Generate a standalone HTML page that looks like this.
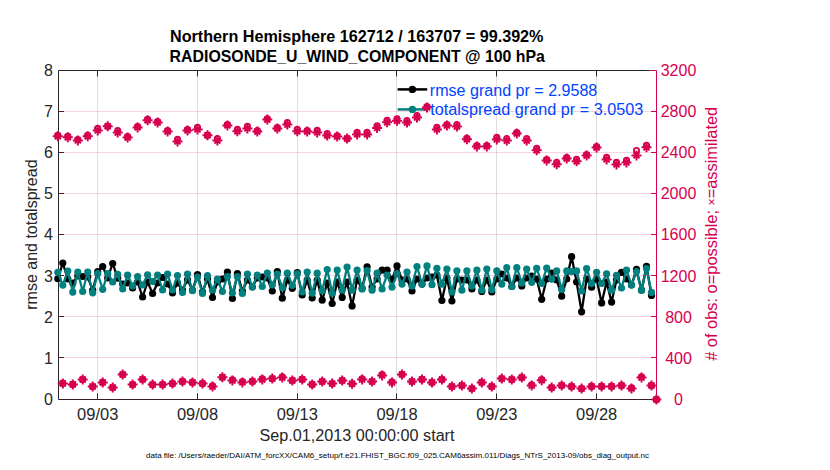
<!DOCTYPE html><html><head><meta charset="utf-8"><style>html,body{margin:0;padding:0;background:#fff;}svg{display:block;}text{font-family:"Liberation Sans",sans-serif;}</style></head><body><svg width="830" height="470" viewBox="0 0 830 470"><rect width="830" height="470" fill="#fff"/><path d="M58.5 70.5H650.5" stroke="#262626" stroke-width="1" fill="none"/><path d="M650.5 70.5H656.5" stroke="#D6004F" stroke-width="1" fill="none"/><path d="M58.5 70.5V399.5" stroke="#262626" stroke-width="1" fill="none"/><path d="M58.5 399.5H656.5" stroke="#3D1A28" stroke-width="1" fill="none"/><path d="M656.5 70.5V399.5" stroke="#D6004F" stroke-width="1" fill="none"/><path d="M97.5 70.5v6M97.5 399.5v-6" stroke="#262626" stroke-width="1"/><path d="M197.5 70.5v6M197.5 399.5v-6" stroke="#262626" stroke-width="1"/><path d="M297.5 70.5v6M297.5 399.5v-6" stroke="#262626" stroke-width="1"/><path d="M396.5 70.5v6M396.5 399.5v-6" stroke="#262626" stroke-width="1"/><path d="M496.5 70.5v6M496.5 399.5v-6" stroke="#262626" stroke-width="1"/><path d="M596.5 70.5v6M596.5 399.5v-6" stroke="#262626" stroke-width="1"/><path d="M58.5 357.5h5.5" stroke="#3a1a26" stroke-width="1"/><path d="M656.5 357.5h-5.5" stroke="#D6004F" stroke-width="1"/><path d="M58.5 316.5h5.5" stroke="#3a1a26" stroke-width="1"/><path d="M656.5 316.5h-5.5" stroke="#D6004F" stroke-width="1"/><path d="M58.5 275.5h5.5" stroke="#3a1a26" stroke-width="1"/><path d="M656.5 275.5h-5.5" stroke="#D6004F" stroke-width="1"/><path d="M58.5 234.5h5.5" stroke="#3a1a26" stroke-width="1"/><path d="M656.5 234.5h-5.5" stroke="#D6004F" stroke-width="1"/><path d="M58.5 193.5h5.5" stroke="#3a1a26" stroke-width="1"/><path d="M656.5 193.5h-5.5" stroke="#D6004F" stroke-width="1"/><path d="M58.5 152.5h5.5" stroke="#3a1a26" stroke-width="1"/><path d="M656.5 152.5h-5.5" stroke="#D6004F" stroke-width="1"/><path d="M58.5 111.5h5.5" stroke="#3a1a26" stroke-width="1"/><path d="M656.5 111.5h-5.5" stroke="#D6004F" stroke-width="1"/><path d="M57.8 278.7 L62.8 263.0 L67.8 279.0 L72.8 283.0 L77.8 276.0 L82.7 276.5 L87.7 277.0 L92.7 290.0 L97.7 271.6 L102.7 266.5 L107.7 278.0 L112.7 263.5 L117.7 278.2 L122.7 284.0 L127.6 283.0 L132.6 288.0 L137.6 282.0 L142.6 297.0 L147.6 282.0 L152.6 293.5 L157.6 283.0 L162.6 277.5 L167.6 284.0 L172.5 293.0 L177.5 283.0 L182.5 290.0 L187.5 279.8 L192.5 290.0 L197.5 274.5 L202.5 292.0 L207.5 279.0 L212.5 297.5 L217.4 282.0 L222.4 279.0 L227.4 272.0 L232.4 298.5 L237.4 273.5 L242.4 291.0 L247.4 280.0 L252.4 287.0 L257.3 278.0 L262.3 277.0 L267.3 278.0 L272.3 291.0 L277.3 271.5 L282.3 298.2 L287.3 280.0 L292.3 288.3 L297.3 272.5 L302.2 295.0 L307.2 280.0 L312.2 298.0 L317.2 280.0 L322.2 300.2 L327.2 283.0 L332.2 303.5 L337.2 282.0 L342.2 297.4 L347.1 282.0 L352.1 305.9 L357.1 280.0 L362.1 288.3 L367.1 266.8 L372.1 287.0 L377.1 279.0 L382.1 270.2 L387.1 270.2 L392.0 279.3 L397.0 265.9 L402.0 280.0 L407.0 279.0 L412.0 291.0 L417.0 279.0 L422.0 284.1 L427.0 278.0 L432.0 277.0 L436.9 275.0 L441.9 300.5 L446.9 278.0 L451.9 301.0 L456.9 279.0 L461.9 280.0 L466.9 280.0 L471.9 289.0 L476.9 280.0 L481.8 291.4 L486.8 280.0 L491.8 292.0 L496.8 279.0 L501.8 274.0 L506.8 278.0 L511.8 286.5 L516.8 278.0 L521.8 285.9 L526.7 278.0 L531.7 276.0 L536.7 279.0 L541.7 299.3 L546.7 279.0 L551.7 273.1 L556.7 280.0 L561.7 296.2 L566.7 279.0 L571.6 256.7 L576.6 282.0 L581.6 311.8 L586.6 279.0 L591.6 287.2 L596.6 279.0 L601.6 302.9 L606.6 282.0 L611.6 302.1 L616.5 280.0 L621.5 272.3 L626.5 279.0 L631.5 285.0 L636.5 269.4 L641.5 290.2 L646.5 266.4 L651.5 295.4" stroke="#000" stroke-width="2.3" fill="none" stroke-linejoin="round"/><g fill="#000"><circle cx="57.8" cy="278.7" r="3.6"/><circle cx="62.8" cy="263.0" r="3.6"/><circle cx="67.8" cy="279.0" r="3.6"/><circle cx="72.8" cy="283.0" r="3.6"/><circle cx="77.8" cy="276.0" r="3.6"/><circle cx="82.7" cy="276.5" r="3.6"/><circle cx="87.7" cy="277.0" r="3.6"/><circle cx="92.7" cy="290.0" r="3.6"/><circle cx="97.7" cy="271.6" r="3.6"/><circle cx="102.7" cy="266.5" r="3.6"/><circle cx="107.7" cy="278.0" r="3.6"/><circle cx="112.7" cy="263.5" r="3.6"/><circle cx="117.7" cy="278.2" r="3.6"/><circle cx="122.7" cy="284.0" r="3.6"/><circle cx="127.6" cy="283.0" r="3.6"/><circle cx="132.6" cy="288.0" r="3.6"/><circle cx="137.6" cy="282.0" r="3.6"/><circle cx="142.6" cy="297.0" r="3.6"/><circle cx="147.6" cy="282.0" r="3.6"/><circle cx="152.6" cy="293.5" r="3.6"/><circle cx="157.6" cy="283.0" r="3.6"/><circle cx="162.6" cy="277.5" r="3.6"/><circle cx="167.6" cy="284.0" r="3.6"/><circle cx="172.5" cy="293.0" r="3.6"/><circle cx="177.5" cy="283.0" r="3.6"/><circle cx="182.5" cy="290.0" r="3.6"/><circle cx="187.5" cy="279.8" r="3.6"/><circle cx="192.5" cy="290.0" r="3.6"/><circle cx="197.5" cy="274.5" r="3.6"/><circle cx="202.5" cy="292.0" r="3.6"/><circle cx="207.5" cy="279.0" r="3.6"/><circle cx="212.5" cy="297.5" r="3.6"/><circle cx="217.4" cy="282.0" r="3.6"/><circle cx="222.4" cy="279.0" r="3.6"/><circle cx="227.4" cy="272.0" r="3.6"/><circle cx="232.4" cy="298.5" r="3.6"/><circle cx="237.4" cy="273.5" r="3.6"/><circle cx="242.4" cy="291.0" r="3.6"/><circle cx="247.4" cy="280.0" r="3.6"/><circle cx="252.4" cy="287.0" r="3.6"/><circle cx="257.3" cy="278.0" r="3.6"/><circle cx="262.3" cy="277.0" r="3.6"/><circle cx="267.3" cy="278.0" r="3.6"/><circle cx="272.3" cy="291.0" r="3.6"/><circle cx="277.3" cy="271.5" r="3.6"/><circle cx="282.3" cy="298.2" r="3.6"/><circle cx="287.3" cy="280.0" r="3.6"/><circle cx="292.3" cy="288.3" r="3.6"/><circle cx="297.3" cy="272.5" r="3.6"/><circle cx="302.2" cy="295.0" r="3.6"/><circle cx="307.2" cy="280.0" r="3.6"/><circle cx="312.2" cy="298.0" r="3.6"/><circle cx="317.2" cy="280.0" r="3.6"/><circle cx="322.2" cy="300.2" r="3.6"/><circle cx="327.2" cy="283.0" r="3.6"/><circle cx="332.2" cy="303.5" r="3.6"/><circle cx="337.2" cy="282.0" r="3.6"/><circle cx="342.2" cy="297.4" r="3.6"/><circle cx="347.1" cy="282.0" r="3.6"/><circle cx="352.1" cy="305.9" r="3.6"/><circle cx="357.1" cy="280.0" r="3.6"/><circle cx="362.1" cy="288.3" r="3.6"/><circle cx="367.1" cy="266.8" r="3.6"/><circle cx="372.1" cy="287.0" r="3.6"/><circle cx="377.1" cy="279.0" r="3.6"/><circle cx="382.1" cy="270.2" r="3.6"/><circle cx="387.1" cy="270.2" r="3.6"/><circle cx="392.0" cy="279.3" r="3.6"/><circle cx="397.0" cy="265.9" r="3.6"/><circle cx="402.0" cy="280.0" r="3.6"/><circle cx="407.0" cy="279.0" r="3.6"/><circle cx="412.0" cy="291.0" r="3.6"/><circle cx="417.0" cy="279.0" r="3.6"/><circle cx="422.0" cy="284.1" r="3.6"/><circle cx="427.0" cy="278.0" r="3.6"/><circle cx="432.0" cy="277.0" r="3.6"/><circle cx="436.9" cy="275.0" r="3.6"/><circle cx="441.9" cy="300.5" r="3.6"/><circle cx="446.9" cy="278.0" r="3.6"/><circle cx="451.9" cy="301.0" r="3.6"/><circle cx="456.9" cy="279.0" r="3.6"/><circle cx="461.9" cy="280.0" r="3.6"/><circle cx="466.9" cy="280.0" r="3.6"/><circle cx="471.9" cy="289.0" r="3.6"/><circle cx="476.9" cy="280.0" r="3.6"/><circle cx="481.8" cy="291.4" r="3.6"/><circle cx="486.8" cy="280.0" r="3.6"/><circle cx="491.8" cy="292.0" r="3.6"/><circle cx="496.8" cy="279.0" r="3.6"/><circle cx="501.8" cy="274.0" r="3.6"/><circle cx="506.8" cy="278.0" r="3.6"/><circle cx="511.8" cy="286.5" r="3.6"/><circle cx="516.8" cy="278.0" r="3.6"/><circle cx="521.8" cy="285.9" r="3.6"/><circle cx="526.7" cy="278.0" r="3.6"/><circle cx="531.7" cy="276.0" r="3.6"/><circle cx="536.7" cy="279.0" r="3.6"/><circle cx="541.7" cy="299.3" r="3.6"/><circle cx="546.7" cy="279.0" r="3.6"/><circle cx="551.7" cy="273.1" r="3.6"/><circle cx="556.7" cy="280.0" r="3.6"/><circle cx="561.7" cy="296.2" r="3.6"/><circle cx="566.7" cy="279.0" r="3.6"/><circle cx="571.6" cy="256.7" r="3.6"/><circle cx="576.6" cy="282.0" r="3.6"/><circle cx="581.6" cy="311.8" r="3.6"/><circle cx="586.6" cy="279.0" r="3.6"/><circle cx="591.6" cy="287.2" r="3.6"/><circle cx="596.6" cy="279.0" r="3.6"/><circle cx="601.6" cy="302.9" r="3.6"/><circle cx="606.6" cy="282.0" r="3.6"/><circle cx="611.6" cy="302.1" r="3.6"/><circle cx="616.5" cy="280.0" r="3.6"/><circle cx="621.5" cy="272.3" r="3.6"/><circle cx="626.5" cy="279.0" r="3.6"/><circle cx="631.5" cy="285.0" r="3.6"/><circle cx="636.5" cy="269.4" r="3.6"/><circle cx="641.5" cy="290.2" r="3.6"/><circle cx="646.5" cy="266.4" r="3.6"/><circle cx="651.5" cy="295.4" r="3.6"/></g><path d="M57.8 272.3 L62.8 285.1 L67.8 271.1 L72.8 292.1 L77.8 272.0 L82.7 291.5 L87.7 272.0 L92.7 292.8 L97.7 273.6 L102.7 289.3 L107.7 273.5 L112.7 282.0 L117.7 274.4 L122.7 289.0 L127.6 275.2 L132.6 286.0 L137.6 276.6 L142.6 285.0 L147.6 274.8 L152.6 281.5 L157.6 275.0 L162.6 290.0 L167.6 274.0 L172.5 290.0 L177.5 275.5 L182.5 292.5 L187.5 274.0 L192.5 290.7 L197.5 277.0 L202.5 293.5 L207.5 275.5 L212.5 290.0 L217.4 279.0 L222.4 291.5 L227.4 276.5 L232.4 293.0 L237.4 276.5 L242.4 293.5 L247.4 274.0 L252.4 287.0 L257.3 275.0 L262.3 286.5 L267.3 273.0 L272.3 285.0 L277.3 274.0 L282.3 287.6 L287.3 273.2 L292.3 285.3 L297.3 273.8 L302.2 292.0 L307.2 272.0 L312.2 293.2 L317.2 273.2 L322.2 290.7 L327.2 269.5 L332.2 293.2 L337.2 270.1 L342.2 290.1 L347.1 267.1 L352.1 290.1 L357.1 270.1 L362.1 288.9 L367.1 270.5 L372.1 290.2 L377.1 273.2 L382.1 289.0 L387.1 275.0 L392.0 287.1 L397.0 273.8 L402.0 284.1 L407.0 272.0 L412.0 285.9 L417.0 266.5 L422.0 284.1 L427.0 265.9 L432.0 284.7 L436.9 268.3 L441.9 284.1 L446.9 269.0 L451.9 292.0 L456.9 270.8 L461.9 290.2 L466.9 270.8 L471.9 285.9 L476.9 270.2 L481.8 290.2 L486.8 269.0 L491.8 289.6 L496.8 270.8 L501.8 284.1 L506.8 267.7 L511.8 286.5 L516.8 267.7 L521.8 282.9 L526.7 269.0 L531.7 282.3 L536.7 268.3 L541.7 283.5 L546.7 268.1 L551.7 279.1 L556.7 270.9 L561.7 289.5 L566.7 270.9 L571.6 271.6 L576.6 270.9 L581.6 291.0 L586.6 268.6 L591.6 283.5 L596.6 272.3 L601.6 283.5 L606.6 273.8 L611.6 290.2 L616.5 275.3 L621.5 288.0 L626.5 270.1 L631.5 285.0 L636.5 271.6 L641.5 290.2 L646.5 268.6 L651.5 292.4" stroke="#00807F" stroke-width="2.3" fill="none" stroke-linejoin="round"/><g fill="#00807F"><circle cx="57.8" cy="272.3" r="3.6"/><circle cx="62.8" cy="285.1" r="3.6"/><circle cx="67.8" cy="271.1" r="3.6"/><circle cx="72.8" cy="292.1" r="3.6"/><circle cx="77.8" cy="272.0" r="3.6"/><circle cx="82.7" cy="291.5" r="3.6"/><circle cx="87.7" cy="272.0" r="3.6"/><circle cx="92.7" cy="292.8" r="3.6"/><circle cx="97.7" cy="273.6" r="3.6"/><circle cx="102.7" cy="289.3" r="3.6"/><circle cx="107.7" cy="273.5" r="3.6"/><circle cx="112.7" cy="282.0" r="3.6"/><circle cx="117.7" cy="274.4" r="3.6"/><circle cx="122.7" cy="289.0" r="3.6"/><circle cx="127.6" cy="275.2" r="3.6"/><circle cx="132.6" cy="286.0" r="3.6"/><circle cx="137.6" cy="276.6" r="3.6"/><circle cx="142.6" cy="285.0" r="3.6"/><circle cx="147.6" cy="274.8" r="3.6"/><circle cx="152.6" cy="281.5" r="3.6"/><circle cx="157.6" cy="275.0" r="3.6"/><circle cx="162.6" cy="290.0" r="3.6"/><circle cx="167.6" cy="274.0" r="3.6"/><circle cx="172.5" cy="290.0" r="3.6"/><circle cx="177.5" cy="275.5" r="3.6"/><circle cx="182.5" cy="292.5" r="3.6"/><circle cx="187.5" cy="274.0" r="3.6"/><circle cx="192.5" cy="290.7" r="3.6"/><circle cx="197.5" cy="277.0" r="3.6"/><circle cx="202.5" cy="293.5" r="3.6"/><circle cx="207.5" cy="275.5" r="3.6"/><circle cx="212.5" cy="290.0" r="3.6"/><circle cx="217.4" cy="279.0" r="3.6"/><circle cx="222.4" cy="291.5" r="3.6"/><circle cx="227.4" cy="276.5" r="3.6"/><circle cx="232.4" cy="293.0" r="3.6"/><circle cx="237.4" cy="276.5" r="3.6"/><circle cx="242.4" cy="293.5" r="3.6"/><circle cx="247.4" cy="274.0" r="3.6"/><circle cx="252.4" cy="287.0" r="3.6"/><circle cx="257.3" cy="275.0" r="3.6"/><circle cx="262.3" cy="286.5" r="3.6"/><circle cx="267.3" cy="273.0" r="3.6"/><circle cx="272.3" cy="285.0" r="3.6"/><circle cx="277.3" cy="274.0" r="3.6"/><circle cx="282.3" cy="287.6" r="3.6"/><circle cx="287.3" cy="273.2" r="3.6"/><circle cx="292.3" cy="285.3" r="3.6"/><circle cx="297.3" cy="273.8" r="3.6"/><circle cx="302.2" cy="292.0" r="3.6"/><circle cx="307.2" cy="272.0" r="3.6"/><circle cx="312.2" cy="293.2" r="3.6"/><circle cx="317.2" cy="273.2" r="3.6"/><circle cx="322.2" cy="290.7" r="3.6"/><circle cx="327.2" cy="269.5" r="3.6"/><circle cx="332.2" cy="293.2" r="3.6"/><circle cx="337.2" cy="270.1" r="3.6"/><circle cx="342.2" cy="290.1" r="3.6"/><circle cx="347.1" cy="267.1" r="3.6"/><circle cx="352.1" cy="290.1" r="3.6"/><circle cx="357.1" cy="270.1" r="3.6"/><circle cx="362.1" cy="288.9" r="3.6"/><circle cx="367.1" cy="270.5" r="3.6"/><circle cx="372.1" cy="290.2" r="3.6"/><circle cx="377.1" cy="273.2" r="3.6"/><circle cx="382.1" cy="289.0" r="3.6"/><circle cx="387.1" cy="275.0" r="3.6"/><circle cx="392.0" cy="287.1" r="3.6"/><circle cx="397.0" cy="273.8" r="3.6"/><circle cx="402.0" cy="284.1" r="3.6"/><circle cx="407.0" cy="272.0" r="3.6"/><circle cx="412.0" cy="285.9" r="3.6"/><circle cx="417.0" cy="266.5" r="3.6"/><circle cx="422.0" cy="284.1" r="3.6"/><circle cx="427.0" cy="265.9" r="3.6"/><circle cx="432.0" cy="284.7" r="3.6"/><circle cx="436.9" cy="268.3" r="3.6"/><circle cx="441.9" cy="284.1" r="3.6"/><circle cx="446.9" cy="269.0" r="3.6"/><circle cx="451.9" cy="292.0" r="3.6"/><circle cx="456.9" cy="270.8" r="3.6"/><circle cx="461.9" cy="290.2" r="3.6"/><circle cx="466.9" cy="270.8" r="3.6"/><circle cx="471.9" cy="285.9" r="3.6"/><circle cx="476.9" cy="270.2" r="3.6"/><circle cx="481.8" cy="290.2" r="3.6"/><circle cx="486.8" cy="269.0" r="3.6"/><circle cx="491.8" cy="289.6" r="3.6"/><circle cx="496.8" cy="270.8" r="3.6"/><circle cx="501.8" cy="284.1" r="3.6"/><circle cx="506.8" cy="267.7" r="3.6"/><circle cx="511.8" cy="286.5" r="3.6"/><circle cx="516.8" cy="267.7" r="3.6"/><circle cx="521.8" cy="282.9" r="3.6"/><circle cx="526.7" cy="269.0" r="3.6"/><circle cx="531.7" cy="282.3" r="3.6"/><circle cx="536.7" cy="268.3" r="3.6"/><circle cx="541.7" cy="283.5" r="3.6"/><circle cx="546.7" cy="268.1" r="3.6"/><circle cx="551.7" cy="279.1" r="3.6"/><circle cx="556.7" cy="270.9" r="3.6"/><circle cx="561.7" cy="289.5" r="3.6"/><circle cx="566.7" cy="270.9" r="3.6"/><circle cx="571.6" cy="271.6" r="3.6"/><circle cx="576.6" cy="270.9" r="3.6"/><circle cx="581.6" cy="291.0" r="3.6"/><circle cx="586.6" cy="268.6" r="3.6"/><circle cx="591.6" cy="283.5" r="3.6"/><circle cx="596.6" cy="272.3" r="3.6"/><circle cx="601.6" cy="283.5" r="3.6"/><circle cx="606.6" cy="273.8" r="3.6"/><circle cx="611.6" cy="290.2" r="3.6"/><circle cx="616.5" cy="275.3" r="3.6"/><circle cx="621.5" cy="288.0" r="3.6"/><circle cx="626.5" cy="270.1" r="3.6"/><circle cx="631.5" cy="285.0" r="3.6"/><circle cx="636.5" cy="271.6" r="3.6"/><circle cx="641.5" cy="290.2" r="3.6"/><circle cx="646.5" cy="268.6" r="3.6"/><circle cx="651.5" cy="292.4" r="3.6"/></g><line x1="97.5" y1="70.5" x2="97.5" y2="399.5" stroke="#262626" stroke-opacity="0.15" stroke-width="1"/><line x1="197.5" y1="70.5" x2="197.5" y2="399.5" stroke="#262626" stroke-opacity="0.15" stroke-width="1"/><line x1="297.5" y1="70.5" x2="297.5" y2="399.5" stroke="#262626" stroke-opacity="0.15" stroke-width="1"/><line x1="396.5" y1="70.5" x2="396.5" y2="399.5" stroke="#262626" stroke-opacity="0.15" stroke-width="1"/><line x1="496.5" y1="70.5" x2="496.5" y2="399.5" stroke="#262626" stroke-opacity="0.15" stroke-width="1"/><line x1="596.5" y1="70.5" x2="596.5" y2="399.5" stroke="#262626" stroke-opacity="0.15" stroke-width="1"/><line x1="58.5" y1="357.5" x2="656.5" y2="357.5" stroke="#D6004F" stroke-opacity="0.17" stroke-width="1"/><line x1="58.5" y1="316.5" x2="656.5" y2="316.5" stroke="#D6004F" stroke-opacity="0.17" stroke-width="1"/><line x1="58.5" y1="275.5" x2="656.5" y2="275.5" stroke="#D6004F" stroke-opacity="0.17" stroke-width="1"/><line x1="58.5" y1="234.5" x2="656.5" y2="234.5" stroke="#D6004F" stroke-opacity="0.17" stroke-width="1"/><line x1="58.5" y1="193.5" x2="656.5" y2="193.5" stroke="#D6004F" stroke-opacity="0.17" stroke-width="1"/><line x1="58.5" y1="152.5" x2="656.5" y2="152.5" stroke="#D6004F" stroke-opacity="0.17" stroke-width="1"/><line x1="58.5" y1="111.5" x2="656.5" y2="111.5" stroke="#D6004F" stroke-opacity="0.17" stroke-width="1"/><path d="M397.6 89.4H427.2" stroke="#000" stroke-width="2.5"/><circle cx="412.4" cy="89.4" r="3.7" fill="#000"/><path d="M397.6 109.4H427.2" stroke="#00807F" stroke-width="2.5"/><circle cx="412.4" cy="109.4" r="3.7" fill="#00807F"/><path d="M52.8 136.3h10.0M57.8 131.3v10.0M54.8 133.3l6.0 6.0M54.8 139.3l6.0 -6.0M62.8 137.3h10.0M67.8 132.3v10.0M64.8 134.3l6.0 6.0M64.8 140.3l6.0 -6.0M72.8 140.4h10.0M77.8 135.4v10.0M74.8 137.4l6.0 6.0M74.8 143.4l6.0 -6.0M82.7 136.2h10.0M87.7 131.2v10.0M84.7 133.2l6.0 6.0M84.7 139.2l6.0 -6.0M92.7 130.4h10.0M97.7 125.4v10.0M94.7 127.4l6.0 6.0M94.7 133.4l6.0 -6.0M102.7 126.3h10.0M107.7 121.3v10.0M104.7 123.3l6.0 6.0M104.7 129.3l6.0 -6.0M112.7 132.5h10.0M117.7 127.5v10.0M114.7 129.5l6.0 6.0M114.7 135.5l6.0 -6.0M122.6 137.5h10.0M127.6 132.5v10.0M124.6 134.5l6.0 6.0M124.6 140.5l6.0 -6.0M132.6 127.4h10.0M137.6 122.4v10.0M134.6 124.4l6.0 6.0M134.6 130.4l6.0 -6.0M142.6 120.3h10.0M147.6 115.3v10.0M144.6 117.3l6.0 6.0M144.6 123.3l6.0 -6.0M152.6 122.5h10.0M157.6 117.5v10.0M154.6 119.5l6.0 6.0M154.6 125.5l6.0 -6.0M162.6 131.5h10.0M167.6 126.5v10.0M164.6 128.5l6.0 6.0M164.6 134.5l6.0 -6.0M172.5 141.4h10.0M177.5 136.4v10.0M174.5 138.4l6.0 6.0M174.5 144.4l6.0 -6.0M182.5 130.4h10.0M187.5 125.4v10.0M184.5 127.4l6.0 6.0M184.5 133.4l6.0 -6.0M192.5 129.4h10.0M197.5 124.4v10.0M194.5 126.4l6.0 6.0M194.5 132.4l6.0 -6.0M202.5 135.2h10.0M207.5 130.2v10.0M204.5 132.2l6.0 6.0M204.5 138.2l6.0 -6.0M212.4 140.5h10.0M217.4 135.5v10.0M214.4 137.5l6.0 6.0M214.4 143.5l6.0 -6.0M222.4 125.4h10.0M227.4 120.4v10.0M224.4 122.4l6.0 6.0M224.4 128.4l6.0 -6.0M232.4 131.3h10.0M237.4 126.3v10.0M234.4 128.3l6.0 6.0M234.4 134.3l6.0 -6.0M242.4 128.4h10.0M247.4 123.4v10.0M244.4 125.4l6.0 6.0M244.4 131.4l6.0 -6.0M252.3 131.5h10.0M257.3 126.5v10.0M254.3 128.5l6.0 6.0M254.3 134.5l6.0 -6.0M262.3 119.6h10.0M267.3 114.6v10.0M264.3 116.6l6.0 6.0M264.3 122.6l6.0 -6.0M272.3 128.5h10.0M277.3 123.5v10.0M274.3 125.5l6.0 6.0M274.3 131.5l6.0 -6.0M282.3 124.6h10.0M287.3 119.6v10.0M284.3 121.6l6.0 6.0M284.3 127.6l6.0 -6.0M292.3 131.3h10.0M297.3 126.3v10.0M294.3 128.3l6.0 6.0M294.3 134.3l6.0 -6.0M302.2 131.5h10.0M307.2 126.5v10.0M304.2 128.5l6.0 6.0M304.2 134.5l6.0 -6.0M312.2 132.4h10.0M317.2 127.4v10.0M314.2 129.4l6.0 6.0M314.2 135.4l6.0 -6.0M322.2 135.5h10.0M327.2 130.5v10.0M324.2 132.5l6.0 6.0M324.2 138.5l6.0 -6.0M332.2 136.6h10.0M337.2 131.6v10.0M334.2 133.6l6.0 6.0M334.2 139.6l6.0 -6.0M342.1 138.5h10.0M347.1 133.5v10.0M344.1 135.5l6.0 6.0M344.1 141.5l6.0 -6.0M352.1 134.4h10.0M357.1 129.4v10.0M354.1 131.4l6.0 6.0M354.1 137.4l6.0 -6.0M362.1 134.4h10.0M367.1 129.4v10.0M364.1 131.4l6.0 6.0M364.1 137.4l6.0 -6.0M372.1 127.9h10.0M377.1 122.9v10.0M374.1 124.9l6.0 6.0M374.1 130.9l6.0 -6.0M382.1 122.3h10.0M387.1 117.3v10.0M384.1 119.3l6.0 6.0M384.1 125.3l6.0 -6.0M392.0 120.8h10.0M397.0 115.8v10.0M394.0 117.8l6.0 6.0M394.0 123.8l6.0 -6.0M402.0 122.5h10.0M407.0 117.5v10.0M404.0 119.5l6.0 6.0M404.0 125.5l6.0 -6.0M412.0 117.5h10.0M417.0 112.5v10.0M414.0 114.5l6.0 6.0M414.0 120.5l6.0 -6.0M422.0 107.4h10.0M427.0 102.4v10.0M424.0 104.4l6.0 6.0M424.0 110.4l6.0 -6.0M431.9 129.4h10.0M436.9 124.4v10.0M433.9 126.4l6.0 6.0M433.9 132.4l6.0 -6.0M441.9 125.5h10.0M446.9 120.5v10.0M443.9 122.5l6.0 6.0M443.9 128.5l6.0 -6.0M451.9 126.5h10.0M456.9 121.5v10.0M453.9 123.5l6.0 6.0M453.9 129.5l6.0 -6.0M461.9 139.3h10.0M466.9 134.3v10.0M463.9 136.3l6.0 6.0M463.9 142.3l6.0 -6.0M471.9 146.4h10.0M476.9 141.4v10.0M473.9 143.4l6.0 6.0M473.9 149.4l6.0 -6.0M481.8 146.4h10.0M486.8 141.4v10.0M483.8 143.4l6.0 6.0M483.8 149.4l6.0 -6.0M491.8 139.4h10.0M496.8 134.4v10.0M493.8 136.4l6.0 6.0M493.8 142.4l6.0 -6.0M501.8 140.6h10.0M506.8 135.6v10.0M503.8 137.6l6.0 6.0M503.8 143.6l6.0 -6.0M511.8 133.5h10.0M516.8 128.5v10.0M513.8 130.5l6.0 6.0M513.8 136.5l6.0 -6.0M521.7 140.5h10.0M526.7 135.5v10.0M523.7 137.5l6.0 6.0M523.7 143.5l6.0 -6.0M531.7 150.2h10.0M536.7 145.2v10.0M533.7 147.2l6.0 6.0M533.7 153.2l6.0 -6.0M541.7 160.4h10.0M546.7 155.4v10.0M543.7 157.4l6.0 6.0M543.7 163.4l6.0 -6.0M551.7 164.3h10.0M556.7 159.3v10.0M553.7 161.3l6.0 6.0M553.7 167.3l6.0 -6.0M561.7 158.5h10.0M566.7 153.5v10.0M563.7 155.5l6.0 6.0M563.7 161.5l6.0 -6.0M571.6 161.3h10.0M576.6 156.3v10.0M573.6 158.3l6.0 6.0M573.6 164.3l6.0 -6.0M581.6 155.5h10.0M586.6 150.5v10.0M583.6 152.5l6.0 6.0M583.6 158.5l6.0 -6.0M591.6 147.5h10.0M596.6 142.5v10.0M593.6 144.5l6.0 6.0M593.6 150.5l6.0 -6.0M601.6 159.4h10.0M606.6 154.4v10.0M603.6 156.4l6.0 6.0M603.6 162.4l6.0 -6.0M611.5 164.4h10.0M616.5 159.4v10.0M613.5 161.4l6.0 6.0M613.5 167.4l6.0 -6.0M621.5 162.4h10.0M626.5 157.4v10.0M623.5 159.4l6.0 6.0M623.5 165.4l6.0 -6.0M631.5 155.4h10.0M636.5 150.4v10.0M633.5 152.4l6.0 6.0M633.5 158.4l6.0 -6.0M641.5 147.3h10.0M646.5 142.3v10.0M643.5 144.3l6.0 6.0M643.5 150.3l6.0 -6.0M651.4 399.5h10.0M656.4 394.5v10.0M653.4 396.5l6.0 6.0M653.4 402.5l6.0 -6.0M57.8 383.4h10.0M62.8 378.4v10.0M59.8 380.4l6.0 6.0M59.8 386.4l6.0 -6.0M67.8 384.4h10.0M72.8 379.4v10.0M69.8 381.4l6.0 6.0M69.8 387.4l6.0 -6.0M77.7 379.5h10.0M82.7 374.5v10.0M79.7 376.5l6.0 6.0M79.7 382.5l6.0 -6.0M87.7 386.5h10.0M92.7 381.5v10.0M89.7 383.5l6.0 6.0M89.7 389.5l6.0 -6.0M97.7 382.4h10.0M102.7 377.4v10.0M99.7 379.4l6.0 6.0M99.7 385.4l6.0 -6.0M107.7 387.5h10.0M112.7 382.5v10.0M109.7 384.5l6.0 6.0M109.7 390.5l6.0 -6.0M117.7 374.5h10.0M122.7 369.5v10.0M119.7 371.5l6.0 6.0M119.7 377.5l6.0 -6.0M127.6 384.6h10.0M132.6 379.6v10.0M129.6 381.6l6.0 6.0M129.6 387.6l6.0 -6.0M137.6 379.4h10.0M142.6 374.4v10.0M139.6 376.4l6.0 6.0M139.6 382.4l6.0 -6.0M147.6 384.6h10.0M152.6 379.6v10.0M149.6 381.6l6.0 6.0M149.6 387.6l6.0 -6.0M157.6 384.6h10.0M162.6 379.6v10.0M159.6 381.6l6.0 6.0M159.6 387.6l6.0 -6.0M167.5 383.6h10.0M172.5 378.6v10.0M169.5 380.6l6.0 6.0M169.5 386.6l6.0 -6.0M177.5 381.5h10.0M182.5 376.5v10.0M179.5 378.5l6.0 6.0M179.5 384.5l6.0 -6.0M187.5 382.4h10.0M192.5 377.4v10.0M189.5 379.4l6.0 6.0M189.5 385.4l6.0 -6.0M197.5 383.6h10.0M202.5 378.6v10.0M199.5 380.6l6.0 6.0M199.5 386.6l6.0 -6.0M207.5 386.6h10.0M212.5 381.6v10.0M209.5 383.6l6.0 6.0M209.5 389.6l6.0 -6.0M217.4 377.3h10.0M222.4 372.3v10.0M219.4 374.3l6.0 6.0M219.4 380.3l6.0 -6.0M227.4 380.5h10.0M232.4 375.5v10.0M229.4 377.5l6.0 6.0M229.4 383.5l6.0 -6.0M237.4 382.4h10.0M242.4 377.4v10.0M239.4 379.4l6.0 6.0M239.4 385.4l6.0 -6.0M247.4 381.4h10.0M252.4 376.4v10.0M249.4 378.4l6.0 6.0M249.4 384.4l6.0 -6.0M257.3 379.5h10.0M262.3 374.5v10.0M259.3 376.5l6.0 6.0M259.3 382.5l6.0 -6.0M267.3 378.6h10.0M272.3 373.6v10.0M269.3 375.6l6.0 6.0M269.3 381.6l6.0 -6.0M277.3 377.6h10.0M282.3 372.6v10.0M279.3 374.6l6.0 6.0M279.3 380.6l6.0 -6.0M287.3 380.5h10.0M292.3 375.5v10.0M289.3 377.5l6.0 6.0M289.3 383.5l6.0 -6.0M297.2 379.4h10.0M302.2 374.4v10.0M299.2 376.4l6.0 6.0M299.2 382.4l6.0 -6.0M307.2 384.4h10.0M312.2 379.4v10.0M309.2 381.4l6.0 6.0M309.2 387.4l6.0 -6.0M317.2 381.5h10.0M322.2 376.5v10.0M319.2 378.5l6.0 6.0M319.2 384.5l6.0 -6.0M327.2 383.6h10.0M332.2 378.6v10.0M329.2 380.6l6.0 6.0M329.2 386.6l6.0 -6.0M337.2 380.5h10.0M342.2 375.5v10.0M339.2 377.5l6.0 6.0M339.2 383.5l6.0 -6.0M347.1 383.8h10.0M352.1 378.8v10.0M349.1 380.8l6.0 6.0M349.1 386.8l6.0 -6.0M357.1 379.6h10.0M362.1 374.6v10.0M359.1 376.6l6.0 6.0M359.1 382.6l6.0 -6.0M367.1 381.5h10.0M372.1 376.5v10.0M369.1 378.5l6.0 6.0M369.1 384.5l6.0 -6.0M377.1 375.4h10.0M382.1 370.4v10.0M379.1 372.4l6.0 6.0M379.1 378.4l6.0 -6.0M387.0 382.6h10.0M392.0 377.6v10.0M389.0 379.6l6.0 6.0M389.0 385.6l6.0 -6.0M397.0 374.4h10.0M402.0 369.4v10.0M399.0 371.4l6.0 6.0M399.0 377.4l6.0 -6.0M407.0 381.5h10.0M412.0 376.5v10.0M409.0 378.5l6.0 6.0M409.0 384.5l6.0 -6.0M417.0 379.4h10.0M422.0 374.4v10.0M419.0 376.4l6.0 6.0M419.0 382.4l6.0 -6.0M427.0 382.4h10.0M432.0 377.4v10.0M429.0 379.4l6.0 6.0M429.0 385.4l6.0 -6.0M436.9 379.5h10.0M441.9 374.5v10.0M438.9 376.5l6.0 6.0M438.9 382.5l6.0 -6.0M446.9 386.5h10.0M451.9 381.5v10.0M448.9 383.5l6.0 6.0M448.9 389.5l6.0 -6.0M456.9 385.5h10.0M461.9 380.5v10.0M458.9 382.5l6.0 6.0M458.9 388.5l6.0 -6.0M466.9 388.6h10.0M471.9 383.6v10.0M468.9 385.6l6.0 6.0M468.9 391.6l6.0 -6.0M476.8 382.4h10.0M481.8 377.4v10.0M478.8 379.4l6.0 6.0M478.8 385.4l6.0 -6.0M486.8 386.5h10.0M491.8 381.5v10.0M488.8 383.5l6.0 6.0M488.8 389.5l6.0 -6.0M496.8 378.6h10.0M501.8 373.6v10.0M498.8 375.6l6.0 6.0M498.8 381.6l6.0 -6.0M506.8 379.5h10.0M511.8 374.5v10.0M508.8 376.5l6.0 6.0M508.8 382.5l6.0 -6.0M516.8 377.5h10.0M521.8 372.5v10.0M518.8 374.5l6.0 6.0M518.8 380.5l6.0 -6.0M526.7 385.6h10.0M531.7 380.6v10.0M528.7 382.6l6.0 6.0M528.7 388.6l6.0 -6.0M536.7 380.3h10.0M541.7 375.3v10.0M538.7 377.3l6.0 6.0M538.7 383.3l6.0 -6.0M546.7 387.6h10.0M551.7 382.6v10.0M548.7 384.6l6.0 6.0M548.7 390.6l6.0 -6.0M556.7 385.4h10.0M561.7 380.4v10.0M558.7 382.4l6.0 6.0M558.7 388.4l6.0 -6.0M566.6 386.5h10.0M571.6 381.5v10.0M568.6 383.5l6.0 6.0M568.6 389.5l6.0 -6.0M576.6 388.6h10.0M581.6 383.6v10.0M578.6 385.6l6.0 6.0M578.6 391.6l6.0 -6.0M586.6 386.4h10.0M591.6 381.4v10.0M588.6 383.4l6.0 6.0M588.6 389.4l6.0 -6.0M596.6 386.4h10.0M601.6 381.4v10.0M598.6 383.4l6.0 6.0M598.6 389.4l6.0 -6.0M606.6 386.4h10.0M611.6 381.4v10.0M608.6 383.4l6.0 6.0M608.6 389.4l6.0 -6.0M616.5 385.5h10.0M621.5 380.5v10.0M618.5 382.5l6.0 6.0M618.5 388.5l6.0 -6.0M626.5 388.5h10.0M631.5 383.5v10.0M628.5 385.5l6.0 6.0M628.5 391.5l6.0 -6.0M636.5 377.6h10.0M641.5 372.6v10.0M638.5 374.6l6.0 6.0M638.5 380.6l6.0 -6.0M646.5 385.5h10.0M651.5 380.5v10.0M648.5 382.5l6.0 6.0M648.5 388.5l6.0 -6.0" stroke="#D6004F" stroke-width="2" fill="none"/><g fill="none" stroke="#D6004F" stroke-width="1.8"><circle cx="57.8" cy="135.4" r="2.65"/><circle cx="67.8" cy="136.4" r="2.65"/><circle cx="77.8" cy="139.5" r="2.65"/><circle cx="87.7" cy="135.3" r="2.65"/><circle cx="97.7" cy="128.4" r="2.65"/><circle cx="107.7" cy="126.3" r="2.65"/><circle cx="117.7" cy="130.5" r="2.65"/><circle cx="127.6" cy="136.6" r="2.65"/><circle cx="137.6" cy="126.5" r="2.65"/><circle cx="147.6" cy="119.4" r="2.65"/><circle cx="157.6" cy="121.6" r="2.65"/><circle cx="167.6" cy="130.6" r="2.65"/><circle cx="177.5" cy="139.4" r="2.65"/><circle cx="187.5" cy="129.5" r="2.65"/><circle cx="197.5" cy="127.4" r="2.65"/><circle cx="207.5" cy="135.2" r="2.65"/><circle cx="217.4" cy="138.5" r="2.65"/><circle cx="227.4" cy="124.5" r="2.65"/><circle cx="237.4" cy="129.3" r="2.65"/><circle cx="247.4" cy="126.4" r="2.65"/><circle cx="257.3" cy="130.6" r="2.65"/><circle cx="267.3" cy="118.7" r="2.65"/><circle cx="277.3" cy="127.6" r="2.65"/><circle cx="287.3" cy="122.6" r="2.65"/><circle cx="297.3" cy="129.3" r="2.65"/><circle cx="307.2" cy="130.6" r="2.65"/><circle cx="317.2" cy="130.4" r="2.65"/><circle cx="327.2" cy="133.5" r="2.65"/><circle cx="337.2" cy="135.7" r="2.65"/><circle cx="347.1" cy="138.5" r="2.65"/><circle cx="357.1" cy="132.4" r="2.65"/><circle cx="367.1" cy="132.4" r="2.65"/><circle cx="377.1" cy="125.9" r="2.65"/><circle cx="387.1" cy="120.3" r="2.65"/><circle cx="397.0" cy="118.8" r="2.65"/><circle cx="407.0" cy="120.5" r="2.65"/><circle cx="417.0" cy="115.5" r="2.65"/><circle cx="427.0" cy="106.5" r="2.65"/><circle cx="436.9" cy="127.4" r="2.65"/><circle cx="446.9" cy="124.6" r="2.65"/><circle cx="456.9" cy="124.5" r="2.65"/><circle cx="466.9" cy="138.4" r="2.65"/><circle cx="476.9" cy="145.5" r="2.65"/><circle cx="486.8" cy="145.5" r="2.65"/><circle cx="496.8" cy="137.4" r="2.65"/><circle cx="506.8" cy="138.6" r="2.65"/><circle cx="516.8" cy="132.6" r="2.65"/><circle cx="526.7" cy="138.5" r="2.65"/><circle cx="536.7" cy="148.2" r="2.65"/><circle cx="546.7" cy="159.5" r="2.65"/><circle cx="556.7" cy="162.3" r="2.65"/><circle cx="566.7" cy="157.6" r="2.65"/><circle cx="576.6" cy="159.3" r="2.65"/><circle cx="586.6" cy="154.6" r="2.65"/><circle cx="596.6" cy="146.6" r="2.65"/><circle cx="606.6" cy="157.4" r="2.65"/><circle cx="616.5" cy="162.4" r="2.65"/><circle cx="626.5" cy="160.4" r="2.65"/><circle cx="636.5" cy="150.6" r="2.65"/><circle cx="646.5" cy="145.3" r="2.65"/><circle cx="656.4" cy="399.5" r="2.65"/><circle cx="62.8" cy="383.4" r="2.65"/><circle cx="72.8" cy="384.4" r="2.65"/><circle cx="82.7" cy="379.5" r="2.65"/><circle cx="92.7" cy="386.5" r="2.65"/><circle cx="102.7" cy="382.4" r="2.65"/><circle cx="112.7" cy="387.5" r="2.65"/><circle cx="122.7" cy="374.5" r="2.65"/><circle cx="132.6" cy="384.6" r="2.65"/><circle cx="142.6" cy="379.4" r="2.65"/><circle cx="152.6" cy="384.6" r="2.65"/><circle cx="162.6" cy="384.6" r="2.65"/><circle cx="172.5" cy="383.6" r="2.65"/><circle cx="182.5" cy="381.5" r="2.65"/><circle cx="192.5" cy="382.4" r="2.65"/><circle cx="202.5" cy="383.6" r="2.65"/><circle cx="212.5" cy="385.8" r="2.65"/><circle cx="222.4" cy="377.3" r="2.65"/><circle cx="232.4" cy="379.7" r="2.65"/><circle cx="242.4" cy="381.6" r="2.65"/><circle cx="252.4" cy="381.4" r="2.65"/><circle cx="262.3" cy="378.7" r="2.65"/><circle cx="272.3" cy="378.6" r="2.65"/><circle cx="282.3" cy="376.8" r="2.65"/><circle cx="292.3" cy="380.5" r="2.65"/><circle cx="302.2" cy="379.4" r="2.65"/><circle cx="312.2" cy="384.4" r="2.65"/><circle cx="322.2" cy="381.5" r="2.65"/><circle cx="332.2" cy="383.6" r="2.65"/><circle cx="342.2" cy="380.5" r="2.65"/><circle cx="352.1" cy="383.8" r="2.65"/><circle cx="362.1" cy="378.8" r="2.65"/><circle cx="372.1" cy="381.5" r="2.65"/><circle cx="382.1" cy="374.6" r="2.65"/><circle cx="392.0" cy="381.8" r="2.65"/><circle cx="402.0" cy="374.4" r="2.65"/><circle cx="412.0" cy="381.5" r="2.65"/><circle cx="422.0" cy="379.4" r="2.65"/><circle cx="432.0" cy="382.4" r="2.65"/><circle cx="441.9" cy="379.5" r="2.65"/><circle cx="451.9" cy="386.5" r="2.65"/><circle cx="461.9" cy="385.5" r="2.65"/><circle cx="471.9" cy="388.6" r="2.65"/><circle cx="481.8" cy="382.4" r="2.65"/><circle cx="491.8" cy="386.5" r="2.65"/><circle cx="501.8" cy="378.6" r="2.65"/><circle cx="511.8" cy="379.5" r="2.65"/><circle cx="521.8" cy="377.5" r="2.65"/><circle cx="531.7" cy="384.8" r="2.65"/><circle cx="541.7" cy="379.5" r="2.65"/><circle cx="551.7" cy="387.6" r="2.65"/><circle cx="561.7" cy="385.4" r="2.65"/><circle cx="571.6" cy="386.5" r="2.65"/><circle cx="581.6" cy="388.6" r="2.65"/><circle cx="591.6" cy="386.4" r="2.65"/><circle cx="601.6" cy="386.4" r="2.65"/><circle cx="611.6" cy="386.4" r="2.65"/><circle cx="621.5" cy="385.5" r="2.65"/><circle cx="631.5" cy="387.7" r="2.65"/><circle cx="641.5" cy="376.8" r="2.65"/><circle cx="651.5" cy="385.5" r="2.65"/></g><text x="53.0" y="404.8" font-size="16" text-anchor="end" fill="#262626">0</text><text x="53.0" y="363.6" font-size="16" text-anchor="end" fill="#262626">1</text><text x="53.0" y="322.8" font-size="16" text-anchor="end" fill="#262626">2</text><text x="53.0" y="281.7" font-size="16" text-anchor="end" fill="#262626">3</text><text x="53.0" y="239.8" font-size="16" text-anchor="end" fill="#262626">4</text><text x="53.0" y="199.1" font-size="16" text-anchor="end" fill="#262626">5</text><text x="53.0" y="157.7" font-size="16" text-anchor="end" fill="#262626">6</text><text x="53.0" y="117.0" font-size="16" text-anchor="end" fill="#262626">7</text><text x="53.0" y="75.9" font-size="16" text-anchor="end" fill="#262626">8</text><text x="678.5" y="404.8" font-size="16" text-anchor="middle" fill="#D6004F">0</text><text x="678.5" y="363.6" font-size="16" text-anchor="middle" fill="#D6004F">400</text><text x="678.5" y="322.8" font-size="16" text-anchor="middle" fill="#D6004F">800</text><text x="678.5" y="281.7" font-size="16" text-anchor="middle" fill="#D6004F">1200</text><text x="678.5" y="239.8" font-size="16" text-anchor="middle" fill="#D6004F">1600</text><text x="678.5" y="199.1" font-size="16" text-anchor="middle" fill="#D6004F">2000</text><text x="678.5" y="157.7" font-size="16" text-anchor="middle" fill="#D6004F">2400</text><text x="678.5" y="117.0" font-size="16" text-anchor="middle" fill="#D6004F">2800</text><text x="678.5" y="75.9" font-size="16" text-anchor="middle" fill="#D6004F">3200</text><text x="97.7" y="419.8" font-size="16" text-anchor="middle" textLength="41.2" lengthAdjust="spacingAndGlyphs" fill="#262626">09/03</text><text x="197.5" y="419.8" font-size="16" text-anchor="middle" textLength="41.2" lengthAdjust="spacingAndGlyphs" fill="#262626">09/08</text><text x="297.3" y="419.8" font-size="16" text-anchor="middle" textLength="41.2" lengthAdjust="spacingAndGlyphs" fill="#262626">09/13</text><text x="397.0" y="419.8" font-size="16" text-anchor="middle" textLength="41.2" lengthAdjust="spacingAndGlyphs" fill="#262626">09/18</text><text x="496.8" y="419.8" font-size="16" text-anchor="middle" textLength="41.2" lengthAdjust="spacingAndGlyphs" fill="#262626">09/23</text><text x="596.6" y="419.8" font-size="16" text-anchor="middle" textLength="41.2" lengthAdjust="spacingAndGlyphs" fill="#262626">09/28</text><text x="259.5" y="440.6" font-size="16" textLength="195" lengthAdjust="spacingAndGlyphs" fill="#262626">Sep.01,2013 00:00:00 start</text><text x="146" y="457.9" font-size="7.6" textLength="503" lengthAdjust="spacingAndGlyphs" fill="#000">data file: /Users/raeder/DAI/ATM_forcXX/CAM6_setup/f.e21.FHIST_BGC.f09_025.CAM6assim.011/Diags_NTrS_2013-09/obs_diag_output.nc</text><text x="170" y="42" font-size="16.5" font-weight="bold" textLength="373.5" lengthAdjust="spacingAndGlyphs" fill="#000">Northern Hemisphere 162712 / 163707 = 99.392%</text><text x="169.6" y="61.8" font-size="16.5" font-weight="bold" textLength="375.3" lengthAdjust="spacingAndGlyphs" fill="#000">RADIOSONDE_U_WIND_COMPONENT @ 100 hPa</text><text transform="translate(36.7 234.6) rotate(-90)" font-size="16" text-anchor="middle" fill="#262626">rmse and totalspread</text><text transform="translate(716.6 233.8) rotate(-90)" font-size="16" text-anchor="middle" textLength="254" lengthAdjust="spacingAndGlyphs" fill="#D6004F"># of obs: o=possible; <tspan font-size="12" dy="-0.5">×</tspan><tspan dy="0.5">=assimilated</tspan></text><text x="429.8" y="95.6" font-size="16" textLength="167.5" lengthAdjust="spacingAndGlyphs" fill="#0044FF">rmse grand pr = 2.9588</text><text x="430.2" y="114.7" font-size="16" textLength="213" lengthAdjust="spacingAndGlyphs" fill="#0044FF">totalspread grand pr = 3.0503</text></svg></body></html>
